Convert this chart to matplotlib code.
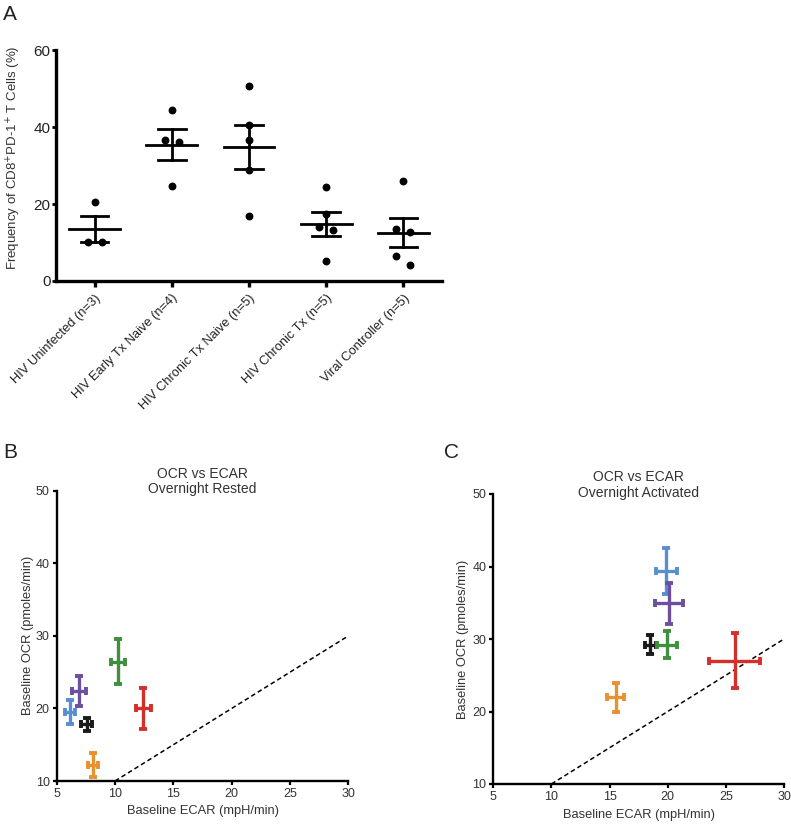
import numpy as np
import matplotlib
matplotlib.use('Agg')
import matplotlib.pyplot as plt

plt.rcParams['font.family'] = ['Liberation Sans', 'DejaVu Sans']

# panel A data
groups = ['HIV Uninfected (n=3)', 'HIV Early Tx Naive (n=4)', 'HIV Chronic Tx Naive (n=5)',
          'HIV Chronic Tx (n=5)', 'Viral Controller (n=5)']
uninfected = [20.4, 10.1, 10.1]
early_naive = [44.4, 36.6, 36.0, 24.6]
chronic_naive = [50.6, 40.6, 36.7, 28.8, 17.0]
chronic_tx = [24.3, 17.3, 13.9, 13.2, 5.1]
controller = [25.9, 13.6, 12.7, 6.4, 4.1]
freqs = [uninfected, early_naive, chronic_naive, chronic_tx, controller]

# panels B and C data: mean +/- error for each cohort
colors = ['#5a8fcf', '#6c4f9f', '#1a1a1a', '#e8922f', '#3f8f3f', '#d3302c']
rest_ecar = [6.14, 6.94, 7.57, 8.14, 10.23, 12.43]
rest_ecar_err = [0.45, 0.6, 0.45, 0.43, 0.6, 0.67]
rest_ocr = [19.5, 22.4, 17.8, 12.2, 26.4, 20.0]
rest_ocr_err = [1.6, 2.1, 0.9, 1.7, 3.1, 2.85]
act_ecar = [19.88, 20.1, 18.5, 15.51, 19.94, 25.77]
act_ecar_err = [0.93, 1.23, 0.49, 0.77, 0.9, 2.2]
act_ocr = [39.4, 34.9, 29.2, 22.0, 29.2, 27.0]
act_ocr_err = [3.2, 2.8, 1.3, 2.0, 1.86, 3.77]

W, H = 791, 824
fig = plt.figure(figsize=(W/100, H/100), dpi=100)

def rect(l, r, t, b):
    return [l/W, (H-b)/H, (r-l)/W, (b-t)/H]

def jitter(vals, step=0.09, thresh=2.5):
    # spread near-equal values sideways like a GraphPad dot plot
    offs = np.zeros(len(vals))
    order = np.argsort(vals)[::-1]
    i = 0
    while i < len(order):
        j = i
        while j+1 < len(order) and vals[order[j]] - vals[order[j+1]] < thresh:
            j += 1
        n = j - i + 1
        if n > 1:
            for k, idx in enumerate(order[i:j+1]):
                offs[idx] = (k - (n-1)/2) * 2*step
        i = j + 1
    return offs

# ---- panel A ----
ax = fig.add_axes(rect(56, 442, 50, 281))
for i, vals in enumerate(freqs):
    vals = np.array(vals)
    m = vals.mean()
    sem = vals.std(ddof=1)/np.sqrt(len(vals))
    ax.scatter(i + jitter(vals), vals, s=32, color='black', zorder=3, linewidths=0)
    ax.plot([i-0.33, i+0.33], [m, m], color='black', lw=2)
    ax.plot([i, i], [m-sem, m+sem], color='black', lw=2)
    for e in (m-sem, m+sem):
        ax.plot([i-0.18, i+0.18], [e, e], color='black', lw=2)
ax.set_xlim(-0.5, 4.5)
ax.set_ylim(0, 60)
ax.set_yticks([0, 20, 40, 60])
ax.set_xticks(range(len(groups)))
ax.set_xticklabels(groups, rotation=45, ha='right', rotation_mode='anchor', fontsize=9.3,
                   color='#222222')
ax.tick_params(axis='y', labelsize=11, length=3, width=2, pad=1, labelcolor='#222222')
ax.tick_params(axis='x', length=4, width=2.4, pad=4)
ax.set_ylabel('Frequency of CD8$^{+}$PD-1$^{+}$ T Cells (%)', fontsize=9.5, color='#333333')
ax.yaxis.set_label_coords(-0.0855, 0.535)
for s in ['top', 'right']:
    ax.spines[s].set_visible(False)
for s in ['left', 'bottom']:
    ax.spines[s].set_linewidth(2.4)
fig.text(3/W, 1-14/H, 'A', fontsize=15, va='center', ha='left', color='#222222')

def cross_panel(l, r, t, b, ecar, ecar_err, ocr, ocr_err, title, letter, lx, ly, xl_y, yl_x):
    ax = fig.add_axes(rect(l, r, t, b))
    for k in range(len(ecar)):
        ax.errorbar(ecar[k], ocr[k], xerr=ecar_err[k], yerr=ocr_err[k], fmt='none',
                    ecolor=colors[k], elinewidth=2.4, capsize=3.2, capthick=2.8, zorder=3)
    ax.plot([10, 30], [10, 30], ls=(0, (3, 2)), color='black', lw=1.1, zorder=2)
    ax.set_xlim(5, 30)
    ax.set_ylim(10, 50)
    ax.set_xticks([5, 10, 15, 20, 25, 30])
    ax.set_yticks([10, 20, 30, 40, 50])
    ax.tick_params(labelsize=9, length=3, width=1.6, pad=2, labelcolor='#333333', color='black')
    ax.set_xlabel('Baseline ECAR (mpH/min)', fontsize=9.3, color='#333333')
    ax.set_ylabel('Baseline OCR (pmoles/min)', fontsize=9.3, color='#333333')
    ax.xaxis.set_label_coords(0.5, xl_y)
    ax.yaxis.set_label_coords(yl_x, 0.5)
    for s in ['top', 'right']:
        ax.spines[s].set_visible(False)
    for s in ['left', 'bottom']:
        ax.spines[s].set_linewidth(1.7)
    ax.text(0.5, 1.0 + 9/(b-t), title, transform=ax.transAxes, ha='center', va='center',
            fontsize=10, color='#333333', linespacing=1.1)
    fig.text(lx/W, 1-ly/H, letter, fontsize=15, va='center', ha='left', color='#222222')
    return ax

cross_panel(56.7, 348.4, 490.7, 781, rest_ecar, rest_ecar_err, rest_ocr, rest_ocr_err,
            'OCR vs ECAR\nOvernight Rested', 'B', 3, 453, -0.0827, -0.0795)
cross_panel(493.3, 784, 494, 784, act_ecar, act_ecar_err, act_ocr, act_ocr_err,
            'OCR vs ECAR\nOvernight Activated', 'C', 444, 453, -0.0862, -0.0836)

fig.savefig('out.png', dpi=100)
